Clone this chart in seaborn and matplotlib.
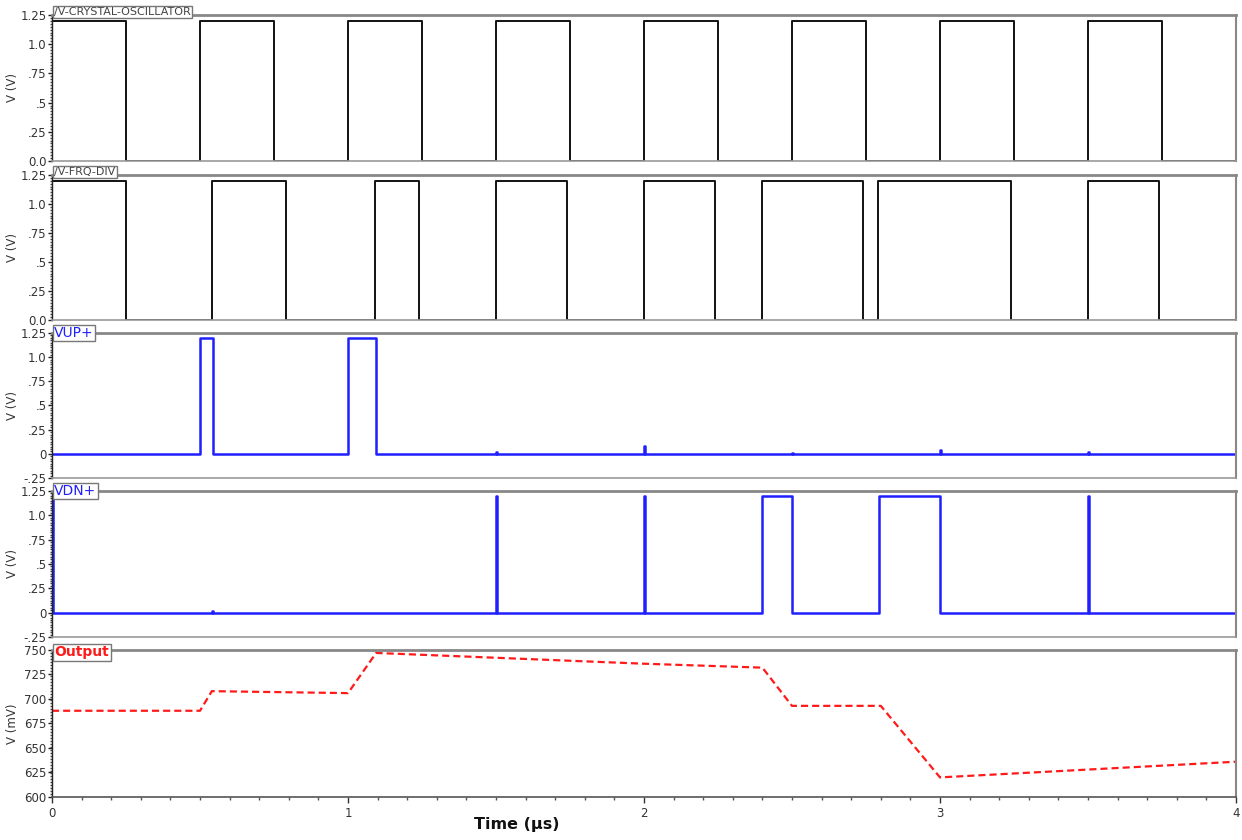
import matplotlib
matplotlib.use("Agg")
import matplotlib.pyplot as plt
import matplotlib.ticker as mticker
import seaborn as sns
import pandas as pd

# transition times (us) and levels after each transition
crystal_t = [0, 0.25, 0.5, 0.75, 1.0, 1.25, 1.5, 1.75, 2.0, 2.25, 2.5, 2.75, 3.0, 3.25, 3.5, 3.75, 4.0]
crystal_v = [1.2, 0, 1.2, 0, 1.2, 0, 1.2, 0, 1.2, 0, 1.2, 0, 1.2, 0, 1.2, 0, 0]

div_t = [0, 0.25, 0.54, 0.79, 1.09, 1.24, 1.5, 1.74, 2.0, 2.24, 2.4, 2.74, 2.79, 3.24, 3.5, 3.74, 4.0]
div_v = [1.2, 0, 1.2, 0, 1.2, 0, 1.2, 0, 1.2, 0, 1.2, 0, 1.2, 0, 1.2, 0, 0]

vup_t = [0, 0.5, 0.545, 1.0, 1.095, 1.5, 1.503, 2.0, 2.004, 2.5, 2.503, 3.0, 3.004, 3.5, 3.503, 4.0]
vup_v = [0, 1.2, 0, 1.2, 0, 0.02, 0, 0.08, 0, 0.01, 0, 0.04, 0, 0.02, 0, 0]

vdn_t = [0, 0.004, 0.54, 0.544, 1.5, 1.503, 2.0, 2.004, 2.4, 2.5, 2.795, 3.0, 3.5, 3.503, 4.0]
vdn_v = [1.2, 0, 0.02, 0, 1.2, 0, 1.2, 0, 1.2, 0, 1.2, 0, 1.2, 0, 0]

out_t = [0, 0.5, 0.54, 1.0, 1.095, 2.0, 2.4, 2.5, 2.8, 3.0, 4.0]
out_mv = [688, 688, 708, 706, 747, 736, 732, 693, 693, 620, 636]

v_ticks = [0, 0.25, 0.5, 0.75, 1.0, 1.25]
v_ticklabels = ["0.0", ".25", ".5", ".75", "1.0", "1.25"]
v2_ticks = [-0.25, 0, 0.25, 0.5, 0.75, 1.0, 1.25]
v2_ticklabels = ["-.25", "0", ".25", ".5", ".75", "1.0", "1.25"]
mv_ticks = [600, 625, 650, 675, 700, 725, 750]

sns.set_style("white")
plt.rcParams["font.family"] = ["DejaVu Sans"]

fig = plt.figure(figsize=(12.42, 8.4), dpi=100)
W, H = 1242, 840
left, right = 52, 1236
# (top, bottom) pixel rows of each panel
rows = [(15, 161), (175, 320), (333, 478), (491, 637), (650, 797)]
axes = []
for top, bot in rows:
    ax = fig.add_axes([left / W, 1 - bot / H, (right - left) / W, (bot - top) / H])
    axes.append(ax)

BLUE = "#1f1fff"
RED = "#ff1a1a"

panels = [
    (crystal_t, crystal_v, "#111111", "/V-CRYSTAL-OSCILLATOR", "#444444"),
    (div_t, div_v, "#111111", "/V-FRQ-DIV", "#444444"),
    (vup_t, vup_v, BLUE, "VUP+", BLUE),
    (vdn_t, vdn_v, BLUE, "VDN+", BLUE),
]

for i, (t, v, col, label, lcol) in enumerate(panels):
    ax = axes[i]
    df = pd.DataFrame({"t": t, "v": v})
    sns.lineplot(data=df, x="t", y="v", ax=ax, color=col, estimator=None, sort=False,
                 drawstyle="steps-post", lw=1.4 if i < 2 else 1.8)
    if i < 2:
        ax.set_ylim(0, 1.25)
        ax.set_yticks(v_ticks)
        ax.set_yticklabels(v_ticklabels)
        ax.yaxis.set_minor_locator(mticker.MultipleLocator(0.025))
        ax.text(0.002, 1.02, label, transform=ax.transAxes, fontsize=8, color=lcol,
                va="center", ha="left",
                bbox=dict(boxstyle="square,pad=0.12", fc="white", ec="#777777", lw=1))
    else:
        ax.set_ylim(-0.25, 1.25)
        ax.set_yticks(v2_ticks)
        ax.set_yticklabels(v2_ticklabels)
        ax.yaxis.set_minor_locator(mticker.MultipleLocator(0.025))
        ax.text(0.002, 1.0, label, transform=ax.transAxes, fontsize=10, color=lcol,
                va="center", ha="left",
                bbox=dict(boxstyle="square,pad=0.1", fc="white", ec="#777777", lw=1))
    ax.set_ylabel("V (V)", fontsize=8.5, color="#333333")

ax = axes[4]
df = pd.DataFrame({"t": out_t, "mv": out_mv})
sns.lineplot(data=df, x="t", y="mv", ax=ax, color=RED, estimator=None, sort=False,
             lw=1.6, linestyle=(0, (3.2, 1.8)))
ax.set_ylim(600, 750)
ax.set_yticks(mv_ticks)
ax.set_yticklabels([str(m) for m in mv_ticks])
ax.yaxis.set_minor_locator(mticker.MultipleLocator(3))
ax.set_ylabel("V (mV)", fontsize=8.5, color="#333333")
ax.text(0.002, 0.985, "Output", transform=ax.transAxes, fontsize=10, color=RED,
        fontweight="bold", va="center", ha="left",
        bbox=dict(boxstyle="square,pad=0.1", fc="white", ec="#777777", lw=1))

for i, ax in enumerate(axes):
    ax.set_xlim(0, 4)
    ax.set_xlabel("")
    ax.yaxis.set_label_coords(-0.028, 0.5)
    ax.tick_params(axis="y", which="major", direction="out", length=3, width=1,
                   labelsize=8.5, labelcolor="#333333", color="#222222", pad=1,
                   left=True)
    ax.tick_params(axis="y", which="minor", direction="out", length=1.5, width=1,
                   color="#444444", left=True)
    ax.spines["left"].set_color("#222222")
    ax.spines["left"].set_linewidth(1)
    ax.spines["top"].set_color("#888888")
    ax.spines["top"].set_linewidth(2)
    ax.spines["right"].set_color("#888888")
    ax.spines["right"].set_linewidth(1.5)
    ax.spines["bottom"].set_color("#999999")
    ax.spines["bottom"].set_linewidth(1.2)
    if i < 4:
        ax.set_xticks([])
        ax.tick_params(axis="x", which="both", bottom=False, labelbottom=False)
    else:
        ax.set_xticks([0, 1, 2, 3, 4])
        ax.set_xticklabels(["0", "1", "2", "3", "4"])
        ax.xaxis.set_minor_locator(mticker.MultipleLocator(0.1))
        ax.tick_params(axis="x", which="major", direction="out", length=4, width=1,
                       labelsize=8.5, labelcolor="#333333", color="#333333", bottom=True)
        ax.tick_params(axis="x", which="minor", direction="out", length=2, width=1,
                       color="#555555", bottom=True)
        ax.spines["bottom"].set_color("#555555")

fig.text(517 / W, 1 - 825 / H, "Time (\u00b5s)", fontsize=11.5, fontweight="bold",
         ha="center", va="center", color="#111111")

fig.savefig("out.png", dpi=100)
